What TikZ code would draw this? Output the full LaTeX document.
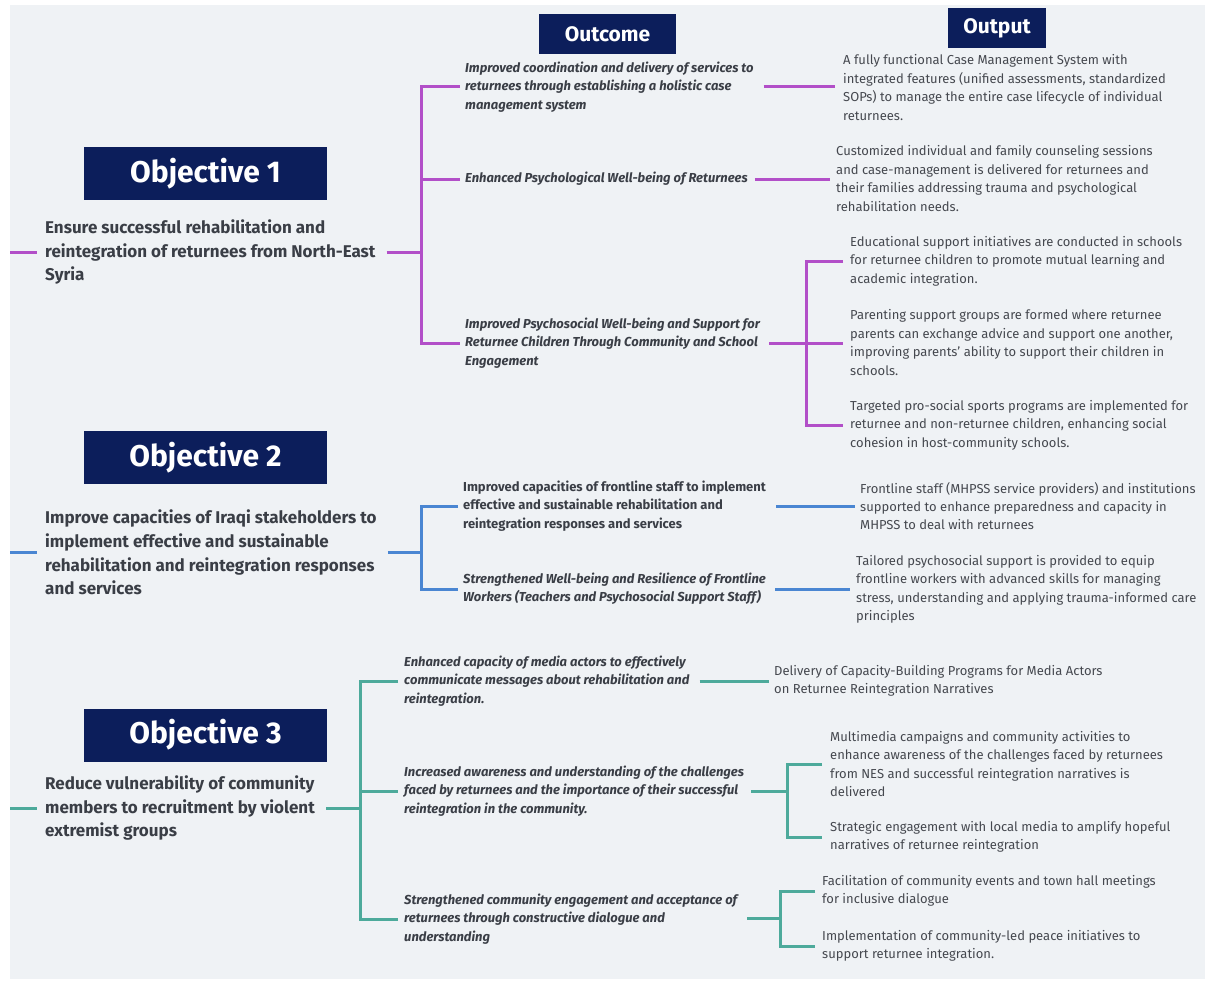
\documentclass[tikz,border=0pt]{standalone}
\usepackage{fontspec}
\setmainfont{Fira Sans}
\definecolor{navy}{HTML}{0C1E5B}
\definecolor{bg}{HTML}{EFF2F5}
\definecolor{txt}{HTML}{3A3E46}
\definecolor{txtl}{HTML}{45484F}
\definecolor{lpurple}{HTML}{B24FC8}
\definecolor{lblue}{HTML}{4A86D2}
\definecolor{lteal}{HTML}{4DAA9B}
\tikzset{
  titlebox/.style={fill=navy, text=white, inner sep=0, minimum width=243pt, minimum height=53pt,
    font=\bfseries\fontsize{30}{32}\selectfont},
  headbox/.style={fill=navy, text=white, inner sep=0, minimum height=40pt,
    font=\bfseries\fontsize{21}{23}\selectfont},
  objtext/.style={anchor=west, align=left, inner sep=0, text=txt,
    font=\bfseries\fontsize{17}{23.7}\selectfont},
  outc/.style={anchor=west, align=left, inner sep=0, text=txt,
    font=\bfseries\itshape\fontsize{13}{18.2}\selectfont},
  outcu/.style={anchor=west, align=left, inner sep=0, text=txt,
    font=\bfseries\fontsize{13}{18.2}\selectfont},
  outp/.style={anchor=west, align=left, inner sep=0, text=txtl,
    font=\fontsize{13}{18.4}\selectfont},
  link/.style={line width=3pt},
}
\begin{document}
\begin{tikzpicture}[x=1pt,y=-1pt]
\useasboundingbox (0,0) rectangle (1208,982);
\fill[white] (0,0) rectangle (1208,982);
\fill[bg] (10,5) rectangle (1205,979);

% headers
\node[headbox, minimum width=137pt] (hout) at (607.5,34) {Outcome};
\node[headbox, minimum width=98pt] (hput) at (997,28) {Output};

% ---------------- Objective 1 ----------------
\node[titlebox] (t1) at (205.5,173.5) {Objective 1};
\node[objtext] (obj1) at (45,252) {Ensure successful rehabilitation and\\reintegration of returnees from North-East\\Syria};
\node[outc] (o11) at (465,87) {Improved coordination and delivery of services to\\returnees through establishing a holistic case\\management system};
\node[outc] (o12) at (465,179) {Enhanced Psychological Well-being of Returnees};
\node[outc] (o13) at (465,343) {Improved Psychosocial Well-being and Support for\\Returnee Children Through Community and School\\Engagement};
\node[outp] (p11) at (843,87.5) {A fully functional Case Management System with\\integrated features (unified assessments, standardized\\SOPs) to manage the entire case lifecycle of individual\\returnees.};
\node[outp] (p12) at (836,178.5) {Customized individual and family counseling sessions\\and case-management is delivered for returnees and\\their families addressing trauma and psychological\\rehabilitation needs.};
\node[outp] (p13a) at (850,261) {Educational support initiatives are conducted in schools\\for returnee children to promote mutual learning and\\academic integration.};
\node[outp] (p13b) at (850,342.5) {Parenting support groups are formed where returnee\\parents can exchange advice and support one another,\\improving parents' ability to support their children in\\schools.};
\node[outp] (p13c) at (850,425) {Targeted pro-social sports programs are implemented for\\returnee and non-returnee children, enhancing social\\cohesion in host-community schools.};

\coordinate (l1) at (10,252);
\coordinate (j1) at (421,252);
\coordinate (j13) at (806,343);
\begin{scope}[link, draw=lpurple]
\draw (l1) -- ([xshift=-8]obj1.west);
\draw ([xshift=11]obj1.east) -- (j1);
\draw ([xshift=-5]o11.west) -| (j1) |- ([xshift=-5]o13.west);
\draw (j1 |- o12.west) -- ([xshift=-5]o12.west);
\draw ([xshift=10]o11.east |- o11.west) -- ([xshift=-8]p11.west |- o11.west);
\draw ([xshift=7]o12.east) -- ([xshift=-6]p12.west |- o12.east);
\draw ([xshift=9]o13.east) -- (j13);
\draw ([xshift=-7]p13a.west) -| (j13) |- ([xshift=-7]p13c.west);
\draw (j13) -- ([xshift=-7]p13b.west |- j13);
\end{scope}

% ---------------- Objective 2 ----------------
\node[titlebox] (t2) at (205.5,457.5) {Objective 2};
\node[objtext] (obj2) at (45,552.5) {Improve capacities of Iraqi stakeholders to\\implement effective and sustainable\\rehabilitation and reintegration responses\\and services};
\node[outcu] (o21) at (463,506) {Improved capacities of frontline staff to implement\\effective and sustainable rehabilitation and\\reintegration responses and services};
\node[outc] (o22) at (463,589) {Strengthened Well-being and Resilience of Frontline\\Workers (Teachers and Psychosocial Support Staff)};
\node[outp] (p21) at (860,506) {Frontline staff (MHPSS service providers) and institutions\\supported to enhance preparedness and capacity in\\MHPSS to deal with returnees};
\node[outp] (p22) at (856,589.5) {Tailored psychosocial support is provided to equip\\frontline workers with advanced skills for managing\\stress, understanding and applying trauma-informed care\\principles};

\coordinate (l2) at (10,552);
\coordinate (j2) at (421,552);
\begin{scope}[link, draw=lblue]
\draw (l2) -- ([xshift=-8]obj2.west |- l2);
\draw ([xshift=11]obj2.east |- j2) -- (j2);
\draw ([xshift=-5]o21.west) -| (j2) |- ([xshift=-5]o22.west);
\draw ([xshift=10]o21.east) -- ([xshift=-5]p21.west);
\draw ([xshift=9]o22.east) -- ([xshift=-6]p22.west |- o22.east);
\end{scope}

% ---------------- Objective 3 ----------------
\node[titlebox] (t3) at (205.5,735) {Objective 3};
\node[objtext] (obj3) at (45,808) {Reduce vulnerability of community\\members to recruitment by violent\\extremist groups};
\node[outc] (o31) at (404,681) {Enhanced capacity of media actors to effectively\\communicate messages about rehabilitation and\\reintegration.};
\node[outc] (o32) at (404,791) {Increased awareness and understanding of the challenges\\faced by returnees and the importance of their successful\\reintegration in the community.};
\node[outc] (o33) at (404,919) {Strengthened community engagement and acceptance of\\returnees through constructive dialogue and\\understanding};
\node[outp] (p31) at (774,681) {Delivery of Capacity-Building Programs for Media Actors\\on Returnee Reintegration Narratives};
\node[outp] (p32a) at (830,764) {Multimedia campaigns and community activities to\\enhance awareness of the challenges faced by returnees\\from NES and successful reintegration narratives is\\delivered};
\node[outp] (p32b) at (830,837) {Strategic engagement with local media to amplify hopeful\\narratives of returnee reintegration};
\node[outp] (p33a) at (822,891) {Facilitation of community events and town hall meetings\\for inclusive dialogue};
\node[outp] (p33b) at (822,946) {Implementation of community-led peace initiatives to\\support returnee integration.};

\coordinate (l3) at (10,808);
\coordinate (j3) at (360,808);
\coordinate (j32) at (787,791);
\coordinate (j33) at (780,918);
\begin{scope}[link, draw=lteal]
\draw (l3) -- ([xshift=-8]obj3.west);
\draw ([xshift=11]obj3.east) -- (j3);
\draw ([xshift=-6]o31.west) -| (j3) |- ([xshift=-6]o33.west);
\draw (j3 |- o32.west) -- ([xshift=-6]o32.west);
\draw ([xshift=10]o31.east) -- ([xshift=-5]p31.west);
\draw ([xshift=7]o32.east) -- (j32);
\draw ([xshift=-8]p32a.west) -| (j32) |- ([xshift=-8]p32b.west);
\draw ([xshift=10]o33.east |- j33) -- (j33);
\draw ([xshift=-7]p33a.west) -| (j33) |- ([xshift=-7]p33b.west);
\end{scope}
\end{tikzpicture}
\end{document}
